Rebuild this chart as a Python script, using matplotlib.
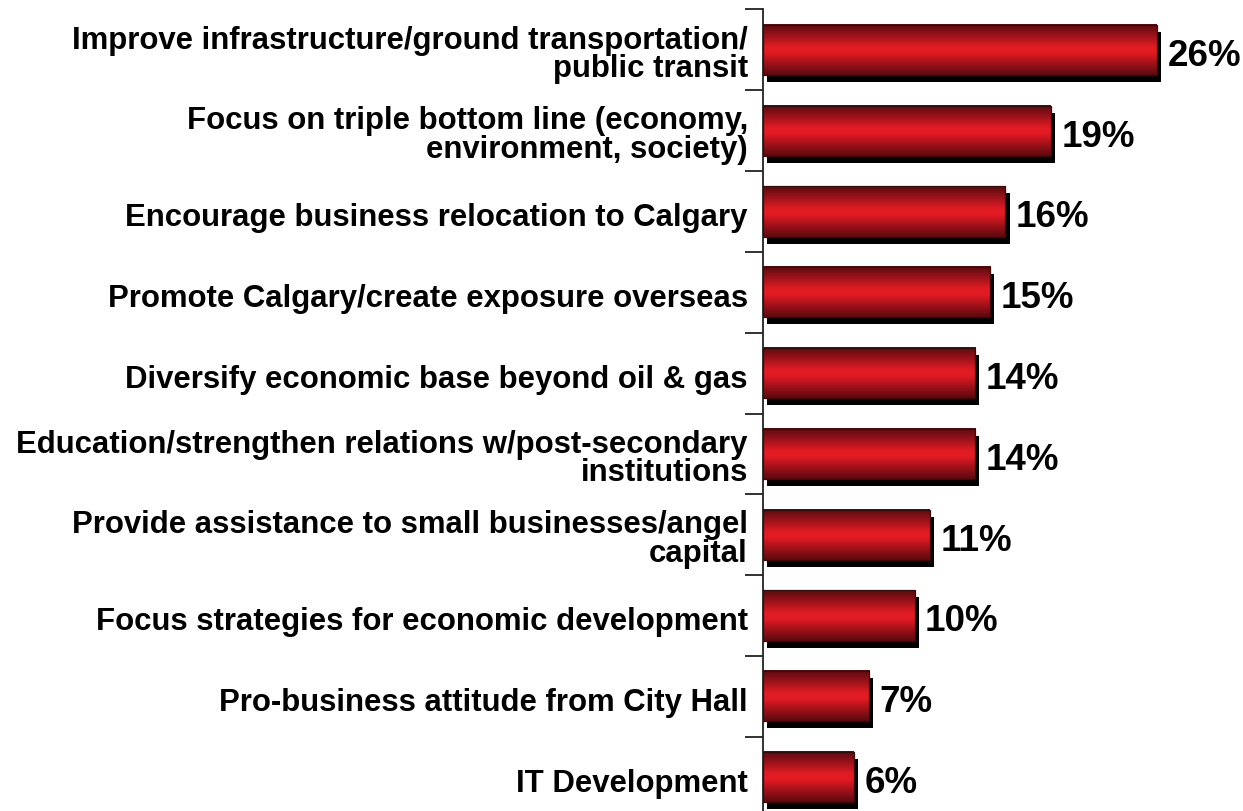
import numpy as np
import matplotlib
matplotlib.use("Agg")
import matplotlib.pyplot as plt
from matplotlib.colors import LinearSegmentedColormap

categories = [
    "Improve infrastructure/ground transportation/\npublic transit",
    "Focus on triple bottom line (economy,\nenvironment, society)",
    "Encourage business relocation to Calgary",
    "Promote Calgary/create exposure overseas",
    "Diversify economic base beyond oil & gas",
    "Education/strengthen relations w/post-secondary\ninstitutions",
    "Provide assistance to small businesses/angel\ncapital",
    "Focus strategies for economic development",
    "Pro-business attitude from City Hall",
    "IT Development",
]
values = [26, 19, 16, 15, 14, 14, 11, 10, 7, 6]

plt.rcParams["font.family"] = ["Liberation Sans", "DejaVu Sans"]

W, H = 1243, 811
fig = plt.figure(figsize=(W / 100, H / 100), dpi=100)
ax_left, ax_top, ax_bottom = 763, 9.5, 817.5
ax = fig.add_axes([ax_left / W, (H - ax_bottom) / H, 1 - ax_left / W, (ax_bottom - ax_top) / H])

n = len(values)
px_per_unit_x = 15.15
px_per_unit_y = (ax_bottom - ax_top) / n

# Vertical red gradient: dark edges, bright centre
grad_cmap = LinearSegmentedColormap.from_list(
    "barred", [(0.0, "#5a0a0e"), (0.22, "#9c1219"), (0.42, "#dc1a22"),
               (0.5, "#e51c24"), (0.58, "#dc1a22"), (0.78, "#9c1219"), (1.0, "#5a0a0e")]
)
grad = np.linspace(0, 1, 256).reshape(-1, 1)

bh = 0.62
dx = 6 / px_per_unit_x   # shadow offset (x)
dy = 7 / px_per_unit_y   # shadow offset (y)
for i, v in enumerate(values):
    # drop shadow
    ax.barh(i + dy, v, left=dx * 0.7, height=bh, color="black", zorder=1)
    # gradient body
    ax.imshow(grad, cmap=grad_cmap, aspect="auto", interpolation="bilinear",
              extent=(0, v, i + bh / 2, i - bh / 2), zorder=2)
    ax.barh(i, v, height=bh, facecolor="none", edgecolor="#3a0a0a", linewidth=0.9, zorder=3)
    ax.text(v + dx + 0.3, i + 0.08, f"{v}%", ha="left", va="center",
            fontsize=26.5, fontweight="bold", color="black", zorder=4)

ax.set_xlim(0, 480 / px_per_unit_x)
ax.set_ylim(n - 0.5, -0.5)

# category labels to the left of the axis
for i, lab in enumerate(categories):
    off = 0.06 if "\n" in lab else 0.08
    ax.text(-1.0, i + off, lab, ha="right", va="center", multialignment="right",
            fontsize=22.4, fontweight="bold", color="black", linespacing=0.93,
            clip_on=False)

for s in ["top", "right", "bottom"]:
    ax.spines[s].set_visible(False)
ax.spines["left"].set_color("#222222")
ax.spines["left"].set_linewidth(1.3)
ax.set_xticks([])
ax.set_yticks(np.arange(-0.5, n, 1.0))
ax.set_yticklabels([])
ax.tick_params(axis="y", direction="out", length=13, width=1.3, color="#222222")

fig.savefig("out.png", dpi=100)
